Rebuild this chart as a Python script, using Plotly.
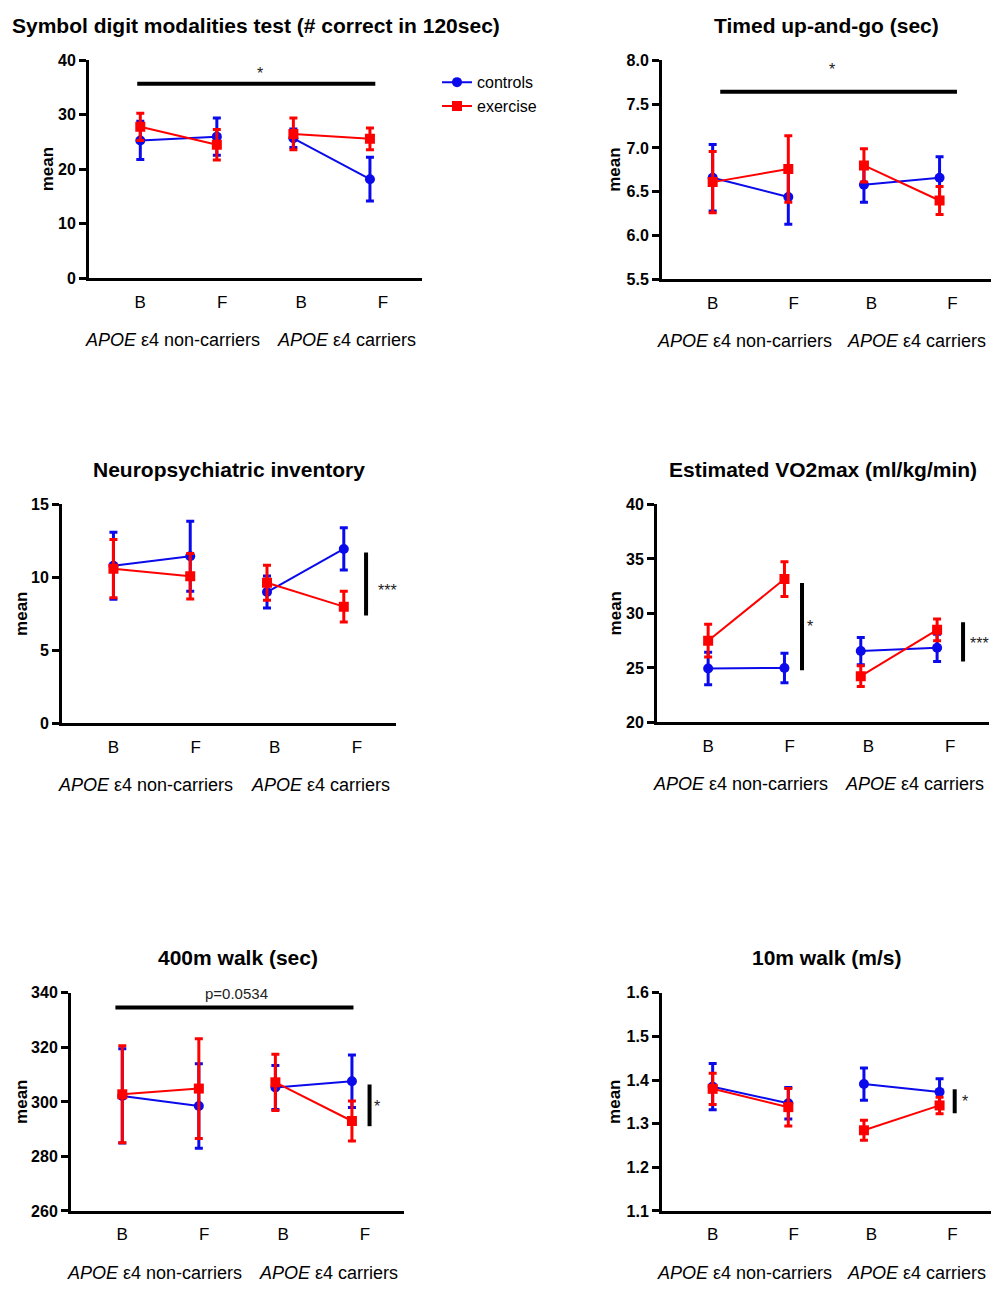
import plotly.graph_objects as go

W, H = 993, 1293

# ---------------- data ----------------
timepoints = ["B", "F", "B", "F"]
group_labels = ["<i>APOE</i> ε4 non-carriers", "<i>APOE</i> ε4 carriers"]
series_names = ["controls", "exercise"]

sdmt_title = "Symbol digit modalities test (# correct in 120sec)"
sdmt_controls = [25.3, 26.0, 25.7, 18.2]
sdmt_controls_err = [3.5, 3.4, 1.7, 4.0]
sdmt_exercise = [27.8, 24.5, 26.5, 25.6]
sdmt_exercise_err = [2.5, 2.8, 2.9, 2.0]
sdmt_ticks = [0, 10, 20, 30, 40]

tug_title = "Timed up-and-go (sec)"
tug_controls = [6.66, 6.44, 6.58, 6.66]
tug_controls_err = [0.38, 0.31, 0.20, 0.24]
tug_exercise = [6.61, 6.76, 6.80, 6.40]
tug_exercise_err = [0.35, 0.38, 0.19, 0.16]
tug_ticks = [5.5, 6.0, 6.5, 7.0, 7.5, 8.0]

npi_title = "Neuropsychiatric inventory"
npi_controls = [10.8, 11.45, 9.0, 11.95]
npi_controls_err = [2.3, 2.4, 1.1, 1.45]
npi_exercise = [10.6, 10.08, 9.63, 8.0]
npi_exercise_err = [2.0, 1.55, 1.2, 1.05]
npi_ticks = [0, 5, 10, 15]

vo2_title = "Estimated VO2max (ml/kg/min)"
vo2_controls = [24.95, 25.0, 26.55, 26.85]
vo2_controls_err = [1.5, 1.35, 1.25, 1.25]
vo2_exercise = [27.5, 33.15, 24.25, 28.5]
vo2_exercise_err = [1.5, 1.6, 0.95, 1.0]
vo2_ticks = [20, 25, 30, 35, 40]

walk400_title = "400m walk (sec)"
walk400_controls = [302.2, 298.5, 305.3, 307.6]
walk400_controls_err = [17.3, 15.5, 8.1, 9.6]
walk400_exercise = [302.8, 304.9, 307.2, 293.0]
walk400_exercise_err = [17.8, 18.3, 10.3, 7.3]
walk400_ticks = [260, 280, 300, 320, 340]

walk10_title = "10m walk (m/s)"
walk10_controls = [1.385, 1.347, 1.391, 1.373]
walk10_controls_err = [0.053, 0.036, 0.037, 0.030]
walk10_exercise = [1.380, 1.338, 1.285, 1.342]
walk10_exercise_err = [0.036, 0.043, 0.023, 0.019]
walk10_ticks = [1.1, 1.2, 1.3, 1.4, 1.5, 1.6]

# significance marks: (x0, x1, y0, y1, label, label_x, label_y)
sdmt_sig = [(0.96, 4.07, 35.7, 35.7, "*", 2.56, 37.6)]
tug_sig = [(1.10, 4.23, 7.64, 7.64, "*", 2.58, 7.89)]
npi_sig = [(4.29, 4.29, 11.7, 7.4, "***", 4.57, 9.1)]
vo2_sig = [(2.23, 2.23, 32.8, 24.8, "*", 2.33, 28.8),
           (4.34, 4.34, 29.2, 25.6, "***", 4.56, 27.2)]
walk400_sig = [(0.91, 4.02, 334.6, 334.6, "p=0.0534", 2.49, 339.6),
               (4.23, 4.23, 306.4, 291.1, "*", 4.33, 298.5)]
walk10_sig = [(4.20, 4.20, 1.379, 1.324, "*", 4.33, 1.352)]

# ---------------- layout helpers ----------------
FONT = "Arial, 'Liberation Sans', sans-serif"
BLUE = "#0a0aeb"
RED = "#ff0000"
x_pos = [1, 2, 3, 4]
label_pos = [1, 2.07, 3.1, 4.17]
group_pos = [1.42, 3.70]
group_slices = [slice(0, 2), slice(2, 4)]

panels = [
    dict(title=sdmt_title, c=sdmt_controls, ce=sdmt_controls_err, e=sdmt_exercise, ee=sdmt_exercise_err,
         ticks=sdmt_ticks, fmt="d", sig=sdmt_sig, dom=(89, 422, 53, 274), meanx=42),
    dict(title=tug_title, c=tug_controls, ce=tug_controls_err, e=tug_exercise, ee=tug_exercise_err,
         ticks=tug_ticks, fmt=".1f", sig=tug_sig, dom=(662, 991, 53, 275), meanx=47),
    dict(title=npi_title, c=npi_controls, ce=npi_controls_err, e=npi_exercise, ee=npi_exercise_err,
         ticks=npi_ticks, fmt="d", sig=npi_sig, dom=(62, 396, 503, 725), meanx=40),
    dict(title=vo2_title, c=vo2_controls, ce=vo2_controls_err, e=vo2_exercise, ee=vo2_exercise_err,
         ticks=vo2_ticks, fmt="d", sig=vo2_sig, dom=(657, 989, 503, 724), meanx=42),
    dict(title=walk400_title, c=walk400_controls, ce=walk400_controls_err, e=walk400_exercise,
         ee=walk400_exercise_err, ticks=walk400_ticks, fmt="d", sig=walk400_sig, dom=(71, 404, 998, 1219), meanx=49),
    dict(title=walk10_title, c=walk10_controls, ce=walk10_controls_err, e=walk10_exercise,
         ee=walk10_exercise_err, ticks=walk10_ticks, fmt=".1f", sig=walk10_sig, dom=(662, 991, 998, 1219), meanx=47),
]

fig = go.Figure()
annotations = []
shapes = []

for i, p in enumerate(panels, start=1):
    sfx = "" if i == 1 else str(i)
    xr, yr = "x" + sfx, "y" + sfx
    x0, x1, y0, y1 = p["dom"]
    for name, vals, errs, color, sym, size in [
        (series_names[0], p["c"], p["ce"], BLUE, "circle", 10),
        (series_names[1], p["e"], p["ee"], RED, "square", 10),
    ]:
        for gi, sl in enumerate(group_slices):
            fig.add_trace(go.Scatter(
                x=x_pos[sl], y=vals[sl], mode="lines+markers", name=name,
                legendgroup=name, xaxis=xr, yaxis=yr, showlegend=(i == 1 and gi == 0),
                line=dict(color=color, width=2),
                marker=dict(color=color, symbol=sym, size=size),
                error_y=dict(type="data", array=errs[sl], visible=True, color=color, thickness=3, width=4),
            ))
    fig.layout["xaxis" + sfx] = dict(
        domain=[x0 / W, x1 / W], anchor=yr, range=[0.33, 4.68],
        showline=True, linewidth=3, linecolor="black", showgrid=False, zeroline=False,
        tickmode="array", tickvals=label_pos, ticktext=timepoints,
        ticks="outside", ticklen=6, tickcolor="rgba(0,0,0,0)",
        tickfont=dict(family=FONT, size=17, color="black"),
    )
    t = p["ticks"]
    fig.layout["yaxis" + sfx] = dict(
        domain=[1 - y1 / H, 1 - y0 / H], anchor=xr, range=[t[0], t[-1]],
        showline=True, linewidth=3, linecolor="black", showgrid=False, zeroline=False,
        tickmode="array", tickvals=t, tickformat=p["fmt"],
        ticks="outside", ticklen=7, tickwidth=3, tickcolor="black",
        tickfont=dict(family=FONT, size=16, color="black", weight="bold"),
    )
    annotations.append(dict(text=p["title"], xref=xr + " domain", yref=yr + " domain", x=0.5, y=1,
                            yshift=35, showarrow=False, xanchor="center", yanchor="middle",
                            font=dict(family=FONT, size=21, color="black", weight="bold")))
    annotations.append(dict(text="mean", xref=xr + " domain", yref=yr + " domain", x=0, y=0.5,
                            xshift=-p["meanx"], showarrow=False, textangle=-90,
                            xanchor="center", yanchor="middle",
                            font=dict(family=FONT, size=17, color="black", weight="bold")))
    for gx, gl in zip(group_pos, group_labels):
        annotations.append(dict(text=gl, xref=xr, yref=yr + " domain", x=gx, y=0, yshift=-62,
                                showarrow=False, xanchor="center", yanchor="middle",
                                font=dict(family=FONT, size=18, color="black")))
    for (sx0, sx1, sy0, sy1, lab, lx, ly) in p["sig"]:
        shapes.append(dict(type="line", xref=xr, yref=yr, x0=sx0, x1=sx1, y0=sy0, y1=sy1,
                           line=dict(color="black", width=4)))
        annotations.append(dict(text=lab, xref=xr, yref=yr, x=lx, y=ly, showarrow=False,
                                xanchor="center", yanchor="middle",
                                font=dict(family=FONT, size=15 if len(lab) > 3 else 16, color="#222222")))

fig.update_layout(
    width=W, height=H, autosize=False,
    margin=dict(l=0, r=0, t=0, b=0),
    paper_bgcolor="white", plot_bgcolor="white",
    showlegend=True,
    legend=dict(x=437 / W, y=1 - 58 / H, xanchor="left", yanchor="top",
                font=dict(family=FONT, size=16, color="black"),
                bgcolor="rgba(0,0,0,0)", itemwidth=30, tracegroupgap=0),
    annotations=annotations,
    shapes=shapes,
)

fig.write_html(
    "out.html",
    post_script="document.documentElement.style.overflow='hidden';document.body.style.margin='0';",
    config={"displayModeBar": False},
)
